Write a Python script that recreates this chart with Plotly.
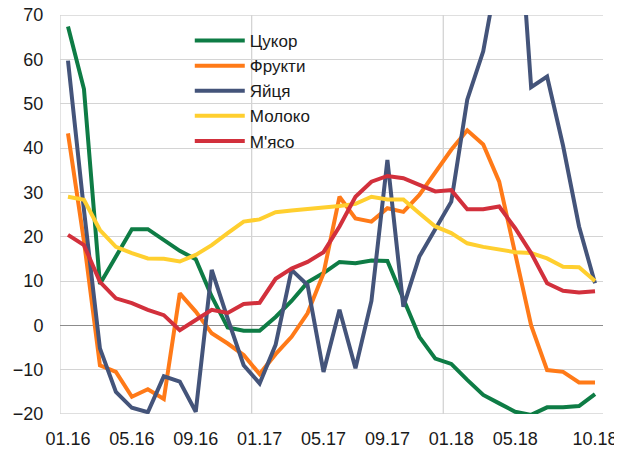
import plotly.graph_objects as go

months = ["01.16","02.16","03.16","04.16","05.16","06.16","07.16","08.16","09.16","10.16","11.16","12.16",
          "01.17","02.17","03.17","04.17","05.17","06.17","07.17","08.17","09.17","10.17","11.17","12.17",
          "01.18","02.18","03.18","04.18","05.18","06.18","07.18","08.18","09.18","10.18"]
tick_labels = ["01.16","05.16","09.16","01.17","05.17","09.17","01.18","05.18","10.18"]

sugar = [67.4, 53.3, 9.3, 15.5, 21.7, 21.7, 19.3, 16.8, 14.9, 6.5, -0.5, -1.2, -1.2, 1.9, 5.5, 9.7, 11.8,
         14.3, 14.0, 14.6, 14.5, 6.0, -2.6, -7.5, -8.7, -12.3, -15.7, -17.6, -19.5, -20.2, -18.5, -18.5, -18.2, -15.5]
fruits = [43.3, 19.0, -9.0, -10.5, -16.1, -14.4, -16.6, 7.2, 3.1, -1.8, -4.1, -6.7, -11.0, -6.5, -2.6, 2.7, 11.7,
          29.0, 24.1, 23.4, 26.4, 25.6, 29.4, 34.7, 39.6, 44.0, 40.8, 32.4, 16.0, 0.0, -10.1, -10.5, -12.9, -12.9]
eggs = [59.7, 26.0, -5.2, -15.0, -18.6, -19.6, -11.5, -12.7, -19.5, 12.5, 1.5, -9.0, -13.1, -4.4, 12.5, 9.1, -10.5,
        3.5, -9.7, 5.5, 37.3, 4.2, 15.5, 21.5, 27.9, 50.9, 61.8, 81.5, 105.0, 53.7, 56.1, 40.5, 22.3, 9.5]
milk = [29.0, 28.3, 21.5, 17.7, 16.3, 15.1, 15.0, 14.4, 15.9, 18.1, 20.8, 23.4, 23.9, 25.5, 25.9, 26.2, 26.4,
        26.9, 27.4, 29.0, 28.4, 28.4, 25.3, 22.3, 20.8, 18.5, 17.7, 17.0, 16.5, 16.3, 15.1, 13.2, 13.1, 10.0]
meat = [20.4, 18.1, 9.8, 6.1, 5.0, 3.5, 2.3, -1.1, 1.2, 3.5, 2.8, 4.8, 5.1, 10.5, 12.8, 14.3, 16.5,
        22.3, 29.0, 32.4, 33.7, 33.2, 31.7, 30.2, 30.5, 26.2, 26.2, 26.8, 21.9, 16.3, 9.5, 7.8, 7.4, 7.7]

series = [("Цукор", sugar, "#0E7C45"),
          ("Фрукти", fruits, "#FF7A18"),
          ("Яйця", eggs, "#44547A"),
          ("Молоко", milk, "#FFCF2F"),
          ("М'ясо", meat, "#D2303C")]

Y_MIN, Y_MAX = -20, 70
idx = list(range(len(months)))
tick_idx = [months.index(t) for t in tick_labels]

fig = go.Figure()
for name, vals, col in series:
    fig.add_trace(go.Scatter(x=idx, y=vals, name=name, mode="lines",
                             line=dict(color=col, width=4), legendgroup=name))

FONT = "Liberation Sans, Arial, sans-serif"
GRID = "#d4d4d4"
# the page body has an 8px default margin, so the figure is sized to fit the 622x450 window
fig.update_layout(
    width=614, height=442,
    margin=dict(l=52, r=19, t=7, b=36, autoexpand=False),
    paper_bgcolor="white", plot_bgcolor="white",
    font=dict(family=FONT, size=18, color="#1a1a1a"),
    showlegend=True,
    legend=dict(x=0.239, y=0.98, xanchor="left", yanchor="top",
                bgcolor="rgba(0,0,0,0)", font=dict(size=17, color="#1a1a1a"),
                tracegroupgap=0, itemwidth=50),
    xaxis=dict(range=[-0.5, len(months) - 0.5], tickmode="array", tickvals=tick_idx,
               ticktext=tick_labels, showgrid=False, zeroline=False, showline=False,
               ticks="outside", ticklen=8, tickcolor="rgba(0,0,0,0)", fixedrange=True,
               automargin=False, ticklabeloverflow="allow"),
    yaxis=dict(range=[Y_MIN, Y_MAX], tickmode="array", tickvals=list(range(Y_MIN, Y_MAX + 1, 10)),
               showgrid=True, gridcolor=GRID, gridwidth=1.3,
               zeroline=True, zerolinecolor="#8c8c8c", zerolinewidth=1.3,
               showline=False, ticks="outside", ticklen=12, tickcolor="rgba(0,0,0,0)",
               fixedrange=True, automargin=False, ticklabeloverflow="allow"),
)

# category-boundary vertical gridlines (Excel style) and edge gridlines
for xb in [-0.5, 11.5, 23.5]:
    fig.add_shape(type="line", xref="x", yref="y", x0=xb, x1=xb, y0=Y_MIN, y1=Y_MAX,
                  line=dict(color=GRID, width=1.3), layer="below")
for yb in [Y_MIN, Y_MAX]:
    fig.add_shape(type="line", xref="paper", yref="y", x0=0, x1=1, y0=yb, y1=yb,
                  line=dict(color=GRID, width=1.3), layer="below")

fig.write_html("out.html")
